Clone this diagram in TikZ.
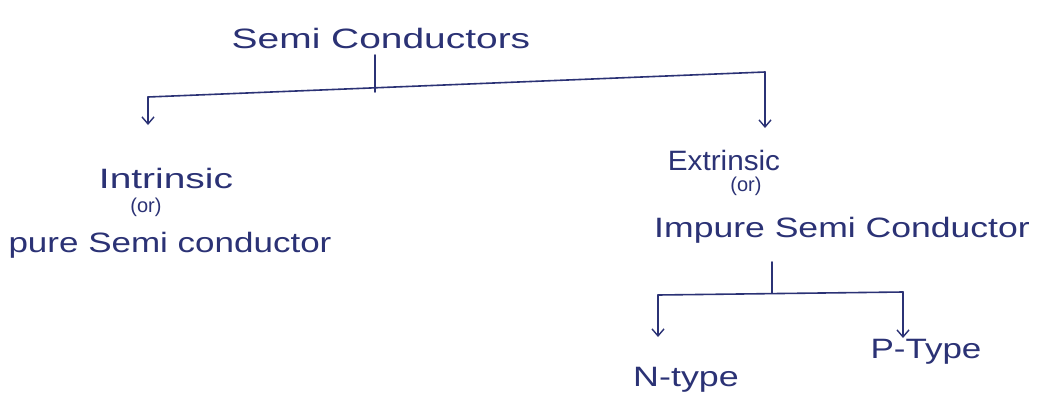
\documentclass[tikz,border=0pt]{standalone}
\usepackage{fontspec}
\setmainfont{Liberation Sans}
\usetikzlibrary{arrows.meta}
\definecolor{ink}{HTML}{2B3275}
\tikzset{
  hand/.style={text=ink, inner sep=0pt, font=\fontsize{28}{32}\selectfont},
  small/.style={text=ink, inner sep=0pt, font=\fontsize{20}{24}\selectfont},
  wire/.style={draw=ink, line width=1.6pt, line cap=round, line join=round},
  arr/.style={wire, -{Straight Barb[length=7pt,width=12pt,line width=1.4pt]}}
}
\begin{document}
\begin{tikzpicture}[x=1pt,y=-1pt]
\useasboundingbox[fill=white] (0,0) rectangle (1055,407);
\node[hand, xscale=1.39] (sc) at (381,38) {Semi Conductors};
\node[hand, xscale=1.39] (in) at (166,178) {Intrinsic};
\node[small] (or1) at (146,207) {(or)};
\node[hand, xscale=1.25] (pu) at (170,245) {pure Semi conductor};
\node[hand, xscale=1.06] (ex) at (724,160) {Extrinsic};
\node[small] (or2) at (746,186) {(or)};
\node[hand, xscale=1.27] (im) at (842,230) {Impure Semi Conductor};
\node[hand, xscale=1.28] (nt) at (686,380) {N-type};
\node[hand, xscale=1.25] (pt) at (926,352) {P-Type};
\coordinate (s1) at (375,55);
\coordinate (s2) at (375,92);
\coordinate (l1) at (148,97);
\coordinate (r1) at (765,72);
\coordinate (t1) at (772,262);
\coordinate (t2) at (772,293);
\coordinate (l2) at (658,295);
\coordinate (r2) at (903,292);
\draw[wire] (s1) -- (s2);
\draw[wire] (l1) -- (r1);
\draw[arr] (l1) -- (148,125);
\draw[arr] (r1) -- (765,128);
\draw[wire] (t1) -- (t2);
\draw[wire] (l2) -- (r2);
\draw[arr] (l2) -- (658,337);
\draw[arr] (r2) -- (903,338);
\end{tikzpicture}
\end{document}
